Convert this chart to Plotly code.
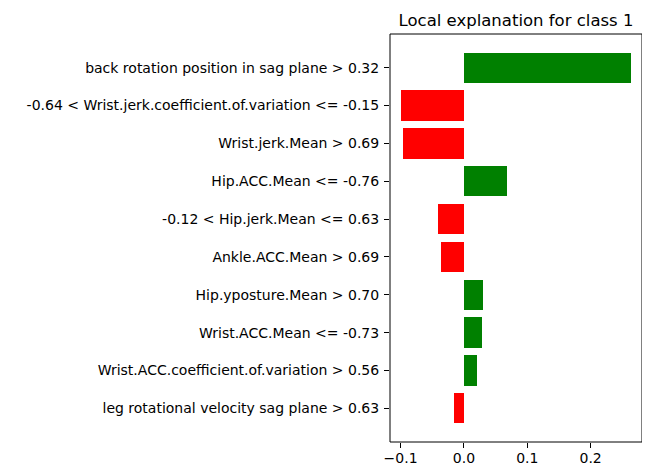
import plotly.graph_objects as go

features = [
    "back rotation position in sag plane > 0.32",
    "-0.64 < Wrist.jerk.coefficient.of.variation <= -0.15",
    "Wrist.jerk.Mean > 0.69",
    "Hip.ACC.Mean <= -0.76",
    "-0.12 < Hip.jerk.Mean <= 0.63",
    "Ankle.ACC.Mean > 0.69",
    "Hip.yposture.Mean > 0.70",
    "Wrist.ACC.Mean <= -0.73",
    "Wrist.ACC.coefficient.of.variation > 0.56",
    "leg rotational velocity sag plane > 0.63",
]
weights = [0.263, -0.0986, -0.0954, 0.0683, -0.0414, -0.0367, 0.030, 0.0283, 0.0205, -0.0162]
x_ticks = [-0.1, 0.0, 0.1, 0.2]
x_tick_labels = ["\u22120.1", "0.0", "0.1", "0.2"]

positions = list(range(len(features)))
colors = ["green" if w > 0 else "red" for w in weights]

fig = go.Figure(go.Bar(
    x=weights, y=positions, orientation="h",
    marker=dict(color=colors, line=dict(width=0)),
    width=0.8,
))

lo, hi = min(weights + [0]), max(weights + [0])
pad = (hi - lo) * 0.05
n = len(features)

# page has an 8px body margin; figure coordinates are offset by it
OFF = 8
W, H = 650 - OFF, 465 - OFF
L, R, T, B = 390 - OFF, 642 - OFF, 34 - OFF, 442 - OFF
fig.update_layout(
    width=W, height=H,
    margin=dict(l=L, r=W - R, t=T, b=H - B),
    paper_bgcolor="white", plot_bgcolor="white",
    font=dict(family="DejaVu Sans", size=14, color="black"),
    title=dict(text="Local explanation for class 1", x=(L + R) / 2 / W, xanchor="center",
               y=1 - (20 - OFF) / H, yanchor="middle", font=dict(size=16.5, color="black")),
    showlegend=False,
    bargap=0,
    shapes=[dict(type="rect", xref="paper", yref="paper", x0=0, x1=1, y0=0, y1=1,
                 line=dict(color="black", width=1), layer="above")],
)
fig.update_xaxes(
    range=[lo - pad, hi + pad], tickvals=x_ticks, ticktext=x_tick_labels,
    showgrid=False, zeroline=False, showline=False, automargin=False,
    ticks="outside", ticklen=5, tickcolor="black", ticklabelstandoff=-2,
)
fig.update_yaxes(
    range=[n - 1 + 0.89, -0.89], tickvals=positions, ticktext=features,
    showgrid=False, zeroline=False, showline=False, automargin=False,
    ticks="outside", ticklen=5, tickcolor="black", ticklabelstandoff=2,
)
fig.write_html("out.html")
